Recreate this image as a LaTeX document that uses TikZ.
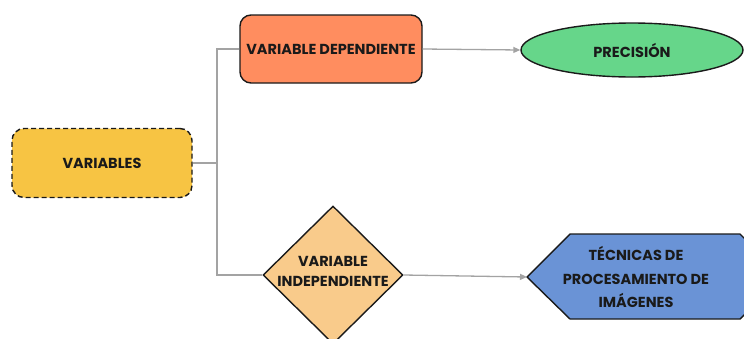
\documentclass[tikz,border=0pt]{standalone}
\usepackage{fontspec}
\setmainfont{Poppins}
\usetikzlibrary{shapes.geometric,arrows.meta}
\definecolor{cvar}{HTML}{F7C443}
\definecolor{cdep}{HTML}{FF8D5F}
\definecolor{cprec}{HTML}{66D68A}
\definecolor{cind}{HTML}{F9CB8B}
\definecolor{chex}{HTML}{6A93D6}
\definecolor{cline}{HTML}{A3A3A3}
\definecolor{cedge}{HTML}{1A1A1A}
\newcommand{\lblfont}{\bfseries\fontsize{14.5}{20}\selectfont}
\tikzset{
  shapebox/.style={draw=cedge, line width=1.4pt, inner sep=0pt, font=\lblfont, text=cedge, align=center},
  conn/.style={draw=cline, line width=1.3pt},
  arr/.style={conn, -{Triangle[length=7pt,width=6pt]}},
  lbl/.style={font=\lblfont, text=cedge, align=center},
}
\begin{document}
\begin{tikzpicture}[x=1pt,y=-1pt]
\useasboundingbox (0,0) rectangle (744,338);
\clip (0,0) rectangle (744,338);
\node[shapebox, fill=cvar, dashed, dash pattern=on 5pt off 3pt, rounded corners=12pt, minimum width=180pt, minimum height=69pt] (vars) at (102,163) {VARIABLES};
\node[shapebox, fill=cdep, rounded corners=11pt, minimum width=182pt, minimum height=68pt] (dep) at (331,49) {VARIABLE DEPENDIENTE};
\node[shapebox, ellipse, fill=cprec, minimum width=222pt, minimum height=54pt] (prec) at (632,50) {PRECISIÓN};
\node[shapebox, diamond, fill=cind, minimum width=140pt, minimum height=138pt] (indep) at (333,275) {};
\node[lbl] (indeplbl) at (333,271) {VARIABLE\\INDEPENDIENTE};
\filldraw[draw=cedge, fill=chex, line width=1.4pt] (527,277) -- (570,234) -- (740,234) -- (783,277) -- (740,319) -- (570,319) -- cycle;
\coordinate (hexl) at (527,277);
\node[lbl, font=\lblfont\fontsize{14.5}{23.5}\selectfont] (hex) at (636,277) {TÉCNICAS DE\\PROCESAMIENTO DE\\IMÁGENES};
\coordinate (jn) at (217,163);
\draw[conn] (vars.east) -- (jn);
\draw[conn] (jn) |- (dep.west);
\draw[conn] (jn) |- (indep.west);
\draw[arr] (dep.east) -- (prec.west);
\draw[arr] (indep.east) -- (hexl);
\end{tikzpicture}
\end{document}
